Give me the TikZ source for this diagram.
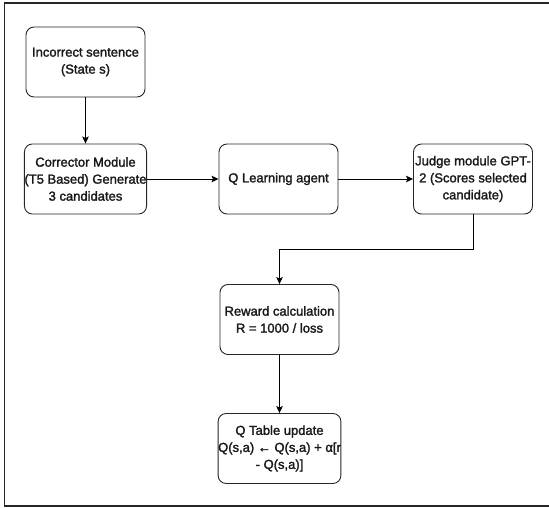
\documentclass[tikz,border=0pt]{standalone}
\usepackage{fontspec}
\setmainfont{Liberation Sans}
\newfontfamily\boxfont{Liberation Sans}[FakeBold=1.8]
\usetikzlibrary{arrows.meta}
\begin{document}
\begin{tikzpicture}[x=1pt,y=-1pt,
  box/.style={draw=black!85, line width=0.9pt, rounded corners=8pt, minimum width=119pt, minimum height=70pt, align=center, inner xsep=0pt, inner ysep=1pt, font=\fontsize{13}{17}\boxfont, text=black!90},
  conn/.style={draw=black, line width=0.9pt, -{Stealth[length=7pt,width=6.5pt,inset=1.5pt]}},
  frame/.style={draw=black!85, line width=1.5pt}]
\useasboundingbox (0,0) rectangle (549,508);
\draw[frame] (550,3) -- (4.5,3) -- (4.5,506) -- (550,506);
\node[box] (inc) at (85.5,62) {Incorrect sentence\\(State s)};
\node[box] (corr) at (85.5,179) {Corrector Module\\(T5 Based) Generate\\3 candidates};
\node[box] (ql) at (278.5,179) {Q Learning agent};
\node[box] (judge) at (473,179) {Judge module GPT-\\2 (Scores selected\\candidate)};
\node[box] (rew) at (279.5,319.5) {Reward calculation\\R = 1000 / loss};
\node[box] (qt) at (279.5,448.5) {Q Table update\\Q(s,a) ← Q(s,a) + α[r\\- Q(s,a)]};
\coordinate (b1) at (473,249);
\coordinate (b2) at (279.5,249);
\draw[conn] (inc) -- (corr);
\draw[conn] (corr) -- (ql);
\draw[conn] (ql) -- (judge);
\draw[conn] (judge.south) -- (b1) -- (b2) -- (rew.north);
\draw[conn] (rew) -- (qt);
\end{tikzpicture}
\end{document}
